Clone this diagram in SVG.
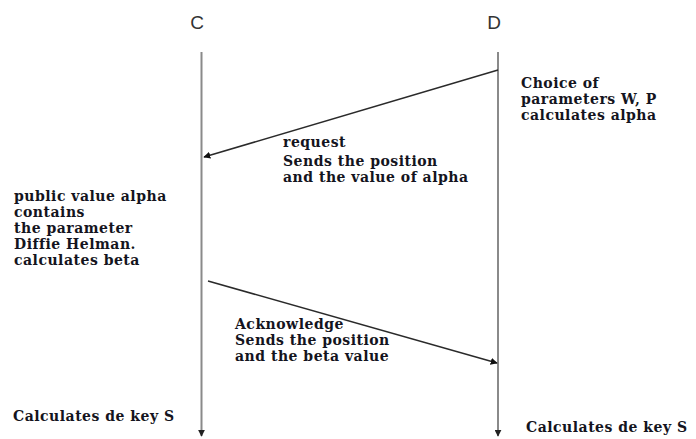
<svg xmlns="http://www.w3.org/2000/svg" width="696" height="439" viewBox="0 0 696 439">
<style>
.hdr{font-family:"Liberation Sans",Arial,sans-serif;font-size:19px;fill:#333}
.t{font-family:"DejaVu Serif","Liberation Serif",serif;font-weight:bold;font-size:14px;letter-spacing:0.5px;fill:#141420}
.life{stroke:#8a8a8a;stroke-width:2;fill:none}
.msg{stroke:#2a2a2a;stroke-width:1.5;fill:none}
</style>
<defs>
<marker id="ah" viewBox="0 0 10 10" refX="9" refY="5" markerWidth="7" markerHeight="7" markerUnits="userSpaceOnUse" orient="auto"><path d="M0,0 L10,5 L0,10 z" fill="#111"/></marker>
<marker id="lh" viewBox="0 0 10 10" refX="9" refY="5" markerWidth="7" markerHeight="7" markerUnits="userSpaceOnUse" orient="auto"><path d="M0,0 L10,5 L0,10 z" fill="#222"/></marker>
</defs>
<g id="C">
<text class="hdr" x="197" y="29" text-anchor="middle">C</text>
</g>
<g id="D">
<text class="hdr" x="494" y="29" text-anchor="middle">D</text>
</g>
<g id="connectors">
<line class="life" x1="201.5" y1="52" x2="201.5" y2="436" marker-end="url(#lh)"/>
<line class="life" x1="498" y1="52" x2="498" y2="436" marker-end="url(#lh)"/>
<line class="msg" x1="498" y1="70" x2="204" y2="157" marker-end="url(#ah)"/>
<line class="msg" x1="208" y1="281" x2="497" y2="363" marker-end="url(#ah)"/>
</g>
<g id="D-note">
<text class="t" x="521" y="88">Choice of</text>
<text class="t" x="521" y="104">parameters W, P</text>
<text class="t" x="521" y="120">calculates alpha</text>
</g>
<g id="request-label">
<text class="t" x="283" y="147">request</text>
<text class="t" x="283" y="166">Sends the position</text>
<text class="t" x="283" y="182">and the value of alpha</text>
</g>
<g id="C-note">
<text class="t" x="14" y="201">public value alpha</text>
<text class="t" x="14" y="217">contains</text>
<text class="t" x="14" y="233">the parameter</text>
<text class="t" x="14" y="249">Diffie Helman.</text>
<text class="t" x="14" y="265">calculates beta</text>
</g>
<g id="ack-label">
<text class="t" x="235" y="329">Acknowledge</text>
<text class="t" x="235" y="345">Sends the position</text>
<text class="t" x="235" y="361">and the beta value</text>
</g>
<g id="C-key">
<text class="t" x="13" y="421">Calculates de key S</text>
</g>
<g id="D-key">
<text class="t" x="526" y="432">Calculates de key S</text>
</g>
</svg>
